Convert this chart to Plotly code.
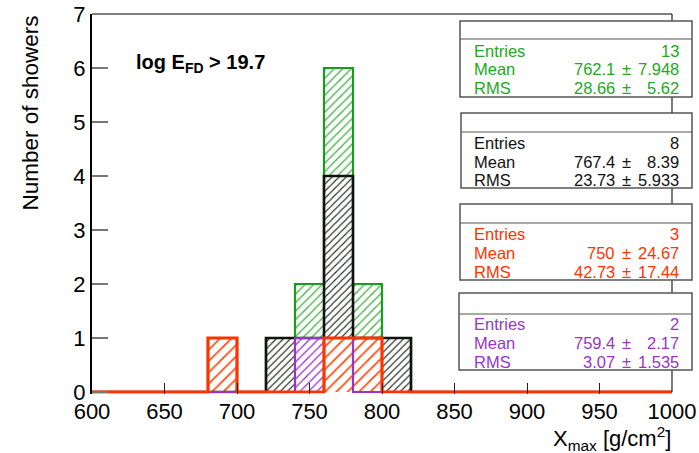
import plotly.graph_objects as go

# ---------------- data ----------------
bin_lo, bin_hi, bin_w = 600, 1000, 20
edges = list(range(bin_lo, bin_hi + 1, bin_w))
centers = [e + bin_w / 2 for e in edges[:-1]]

def hist(d):
    return [d.get(e, 0) for e in edges[:-1]]

all_counts = hist({680: 1, 720: 1, 740: 2, 760: 6, 780: 2, 800: 1})
black_counts = hist({720: 1, 740: 1, 760: 4, 780: 1, 800: 1})
red_counts = hist({680: 1, 760: 1, 780: 1})
purple_counts = hist({740: 1, 760: 1})

series_names = ["all", "black", "purple", "red"]
series_counts = [all_counts, black_counts, purple_counts, red_counts]
line_colors = ["#1c9c1c", "#111111", "#9933cc", "#ff3300"]
hatch_colors = ["#44b044", "#1f2f1f", "#9933cc", "#ff4a10"]
text_colors = ["#22a822", "#111111", "#ff3300", "#9933cc"]
line_widths = [2.2, 2.6, 2.2, 3.2]
hatch_sizes = [6, 5, 6, 8]

stat_entries = ["13", "8", "3", "2"]
stat_mean = ["762.1", "767.4", "750", "759.4"]
stat_mean_err = ["7.948", "8.39", "24.67", "2.17"]
stat_rms = ["28.66", "23.73", "42.73", "3.07"]
stat_rms_err = ["5.62", "5.933", "17.44", "1.535"]

x_ticks = list(range(600, 1001, 50))
y_ticks = list(range(0, 8))

# ---------------- layout geometry (pixels) ----------------
W, H = 699, 453
L, R, T = 92, 672, 14
Y0PX = 392          # pixel of y = 0
YMIN = -0.03
ppu = (Y0PX - T) / 7.0
B = Y0PX + (0 - YMIN) * ppu

fig = go.Figure()

# hatched fills
for name, cnt, hc, hs in zip(series_names, series_counts, hatch_colors, hatch_sizes):
    fig.add_trace(go.Bar(
        x=centers, y=cnt, width=bin_w, name=name,
        marker=dict(color=hc, line=dict(width=0),
                    pattern=dict(shape="/", fgcolor=hc, bgcolor="white",
                                 size=hs, solidity=0.22, fillmode="replace")),
        showlegend=False, hoverinfo="skip"))

# histogram outlines
for name, cnt, lc, lw in zip(series_names, series_counts, line_colors, line_widths):
    fig.add_trace(go.Scatter(
        x=edges, y=cnt + [cnt[-1]], mode="lines", line=dict(shape="hv", color=lc, width=lw),
        showlegend=False, hoverinfo="skip"))

# invisible full-figure axes (pixel coordinates) for decorations
fig.add_trace(go.Scatter(x=[0, W], y=[0, H], xaxis="x2", yaxis="y2", mode="markers",
                         marker=dict(opacity=0), showlegend=False, hoverinfo="skip"))

font_fam = "Liberation Sans, Arial, sans-serif"
P = dict(xref="x2", yref="y2")

shapes = []
# frame top and right
shapes.append(dict(type="line", **P, x0=L, x1=R, y0=T, y1=T,
                   line=dict(color="#555555", width=1.5)))
shapes.append(dict(type="line", **P, x0=R, x1=R, y0=T, y1=Y0PX,
                   line=dict(color="#222222", width=1.2)))

annotations = []
boxes = [  # (left, right, top, divider, bottom, rows y)
    (460, 692, 21, 39, 97, (51, 69, 88)),
    (461, 692, 113, 132, 188, (143, 162, 180)),
    (460, 692, 204, 223, 280, (234, 253, 272)),
    (459, 692, 293, 314, 370, (324, 343, 362)),
]
for i, (bl, br, bt, bd, bb, rows) in enumerate(boxes):
    shapes.append(dict(type="rect", **P, x0=bl, x1=br, y0=bt, y1=bb,
                       fillcolor="white", line=dict(color="#555555", width=1.5), layer="above"))
    shapes.append(dict(type="line", **P, x0=bl, x1=br, y0=bd, y1=bd,
                       line=dict(color="#555555", width=1.2), layer="above"))
    col = text_colors[i]
    f = dict(family=font_fam, size=16.5, color=col)
    for lab, ry in zip(["Entries", "Mean", "RMS"], rows):
        annotations.append(dict(**P, x=472, y=ry, text=lab, showarrow=False,
                                xanchor="left", yanchor="middle", font=f))
    annotations.append(dict(**P, x=681, y=rows[0], text=stat_entries[i], showarrow=False,
                            xanchor="right", yanchor="middle", font=f))
    for val, err, ry in [(stat_mean[i], stat_mean_err[i], rows[1]),
                         (stat_rms[i], stat_rms_err[i], rows[2])]:
        annotations.append(dict(**P, x=617, y=ry, text=val, showarrow=False,
                                xanchor="right", yanchor="middle", font=f))
        annotations.append(dict(**P, x=626, y=ry, text="±", showarrow=False,
                                xanchor="center", yanchor="middle", font=f))
        annotations.append(dict(**P, x=681, y=ry, text=err, showarrow=False,
                                xanchor="right", yanchor="middle", font=f))

annotations.append(dict(**P, x=134, y=63, text="<b>log E<sub>FD</sub> > 19.7</b>", showarrow=False,
                        xanchor="left", yanchor="middle",
                        font=dict(family=font_fam, size=20, color="black")))
annotations.append(dict(**P, x=673, y=438, text="X<sub>max</sub> [g/cm<sup>2</sup>]", showarrow=False,
                        xanchor="right", yanchor="middle",
                        font=dict(family=font_fam, size=22, color="black")))
annotations.append(dict(**P, x=30, y=14, text="Number of showers", showarrow=False, textangle=-90,
                        xanchor="center", yanchor="top",
                        font=dict(family=font_fam, size=22.5, color="black")))

fig.update_layout(
    width=W, height=H,
    margin=dict(l=0, r=0, t=0, b=0, pad=0),
    paper_bgcolor="white", plot_bgcolor="rgba(0,0,0,0)",
    barmode="overlay", bargap=0,
    shapes=shapes, annotations=annotations,
    font=dict(family=font_fam, size=22, color="black"),
    xaxis=dict(domain=[L / W, R / W], range=[bin_lo, bin_hi], tickvals=x_ticks,
               ticktext=[str(v) for v in x_ticks],
               ticks="inside", ticklen=11, tickwidth=1, tickcolor="#222222",
               showline=False, showgrid=False, zeroline=False, layer="above traces",
               tickfont=dict(size=22), ticklabelstandoff=2, automargin=False, anchor="y"),
    yaxis=dict(domain=[(H - B) / H, (H - T) / H], range=[YMIN, 7], tickvals=y_ticks,
               ticktext=[str(v) for v in y_ticks],
               ticks="inside", ticklen=16, tickwidth=2, tickcolor="#777777",
               showline=True, linecolor="black", linewidth=2,
               showgrid=False, zeroline=False, layer="above traces",
               tickfont=dict(size=22), automargin=False, anchor="x"),
    xaxis2=dict(domain=[0, 1], range=[0, W], visible=False,
                anchor="y2", fixedrange=True),
    yaxis2=dict(domain=[0, 1], range=[H, 0], visible=False,
                anchor="x2", fixedrange=True),
)

fig.write_html("out.html")
